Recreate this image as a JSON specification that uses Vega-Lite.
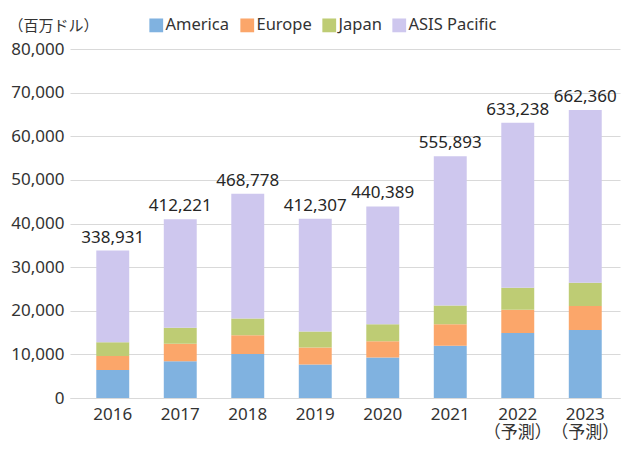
{
  "$schema": "https://vega.github.io/schema/vega-lite/v6.json",
  "width": 550,
  "height": 349,
  "autosize": {"type": "none"},
  "padding": {"left": 70, "top": 49, "right": 6, "bottom": 52},
  "background": "white",
  "datasets": {
    "segments": [
      {"year": "2016", "region": "America", "value": 6400},
      {"year": "2016", "region": "Europe", "value": 3200},
      {"year": "2016", "region": "Japan", "value": 3200},
      {"year": "2016", "region": "ASIS Pacific", "value": 21000},
      {"year": "2017", "region": "America", "value": 8400},
      {"year": "2017", "region": "Europe", "value": 4050},
      {"year": "2017", "region": "Japan", "value": 3650},
      {"year": "2017", "region": "ASIS Pacific", "value": 24900},
      {"year": "2018", "region": "America", "value": 10070},
      {"year": "2018", "region": "Europe", "value": 4330},
      {"year": "2018", "region": "Japan", "value": 3850},
      {"year": "2018", "region": "ASIS Pacific", "value": 28550},
      {"year": "2019", "region": "America", "value": 7700},
      {"year": "2019", "region": "Europe", "value": 3900},
      {"year": "2019", "region": "Japan", "value": 3660},
      {"year": "2019", "region": "ASIS Pacific", "value": 25840},
      {"year": "2020", "region": "America", "value": 9300},
      {"year": "2020", "region": "Europe", "value": 3700},
      {"year": "2020", "region": "Japan", "value": 3900},
      {"year": "2020", "region": "ASIS Pacific", "value": 27000},
      {"year": "2021", "region": "America", "value": 12000},
      {"year": "2021", "region": "Europe", "value": 4900},
      {"year": "2021", "region": "Japan", "value": 4300},
      {"year": "2021", "region": "ASIS Pacific", "value": 34200},
      {"year": "2022", "region": "America", "value": 14900},
      {"year": "2022", "region": "Europe", "value": 5350},
      {"year": "2022", "region": "Japan", "value": 5050},
      {"year": "2022", "region": "ASIS Pacific", "value": 37800},
      {"year": "2023", "region": "America", "value": 15600},
      {"year": "2023", "region": "Europe", "value": 5500},
      {"year": "2023", "region": "Japan", "value": 5300},
      {"year": "2023", "region": "ASIS Pacific", "value": 39600}
    ],
    "regions": [
      {"region": "America", "rank": 1},
      {"region": "Europe", "rank": 2},
      {"region": "Japan", "rank": 3},
      {"region": "ASIS Pacific", "rank": 4}
    ],
    "totals": [
      {"year": "2016", "label": "338,931"},
      {"year": "2017", "label": "412,221"},
      {"year": "2018", "label": "468,778"},
      {"year": "2019", "label": "412,307"},
      {"year": "2020", "label": "440,389"},
      {"year": "2021", "label": "555,893"},
      {"year": "2022", "label": "633,238"},
      {"year": "2023", "label": "662,360"}
    ]
  },
  "layer": [
    {
      "data": {"name": "segments"},
      "transform": [
        {"lookup": "region", "from": {"data": {"name": "regions"}, "key": "region", "fields": ["rank"]}}
      ],
      "mark": {"type": "bar"},
      "encoding": {
        "x": {
          "field": "year",
          "type": "nominal",
          "sort": null,
          "scale": {"paddingInner": 0.512, "paddingOuter": 0.33, "align": 0.59},
          "axis": {
            "title": null,
            "labelAngle": 0,
            "domain": true,
            "domainColor": "#d9d9d9",
            "ticks": false,
            "grid": false,
            "labelPadding": 8,
            "labelLineHeight": 18,
            "labelBaseline": "top",
            "labelExpr": "datum.label == '2022' || datum.label == '2023' ? [datum.label, '（予測）'] : datum.label"
          }
        },
        "y": {
          "field": "value",
          "type": "quantitative",
          "stack": "zero",
          "scale": {"domain": [0, 80000], "nice": false},
          "axis": {
            "title": "（百万ドル）",
            "titleAngle": 0,
            "titleAlign": "left",
            "titleBaseline": "middle",
            "titleX": -62,
            "titleY": -24,
            "titleFontSize": 15,
            "titleFontWeight": "normal",
            "titleColor": "#333333",
            "values": [0, 10000, 20000, 30000, 40000, 50000, 60000, 70000, 80000],
            "format": ",d",
            "domain": false,
            "ticks": false,
            "grid": true,
            "gridColor": "#d9d9d9",
            "labelPadding": 6
          }
        },
        "color": {
          "field": "region",
          "type": "nominal",
          "sort": ["America", "Europe", "Japan", "ASIS Pacific"],
          "scale": {
            "domain": ["America", "Europe", "Japan", "ASIS Pacific"],
            "range": ["#80b2e0", "#fba66a", "#becc74", "#cec7ee"]
          },
          "legend": {
            "title": null,
            "orient": "none",
            "legendX": 78,
            "legendY": -32,
            "direction": "horizontal",
            "symbolType": "square",
            "symbolSize": 190,
            "symbolStrokeWidth": 0,
            "labelFontSize": 16.5,
            "labelColor": "#333333",
            "labelOffset": 1,
            "columnPadding": 9
          }
        },
        "order": {"field": "rank", "type": "quantitative", "sort": "ascending"}
      }
    },
    {
      "data": {"name": "segments"},
      "transform": [
        {"aggregate": [{"op": "sum", "field": "value", "as": "total"}], "groupby": ["year"]},
        {"lookup": "year", "from": {"data": {"name": "totals"}, "key": "year", "fields": ["label"]}}
      ],
      "mark": {"type": "text", "baseline": "bottom", "dy": -4, "fontSize": 17, "color": "#262626"},
      "encoding": {
        "x": {"field": "year", "type": "nominal", "sort": null},
        "y": {"field": "total", "type": "quantitative"},
        "text": {"field": "label", "type": "nominal"}
      }
    }
  ],
  "config": {
    "font": "Noto Sans, Noto Sans CJK JP",
    "view": {"stroke": null},
    "axis": {"labelFontSize": 17, "labelColor": "#333333", "labelFont": "Noto Sans, Noto Sans CJK JP"},
    "legend": {"labelFont": "Noto Sans, Noto Sans CJK JP"}
  }
}
